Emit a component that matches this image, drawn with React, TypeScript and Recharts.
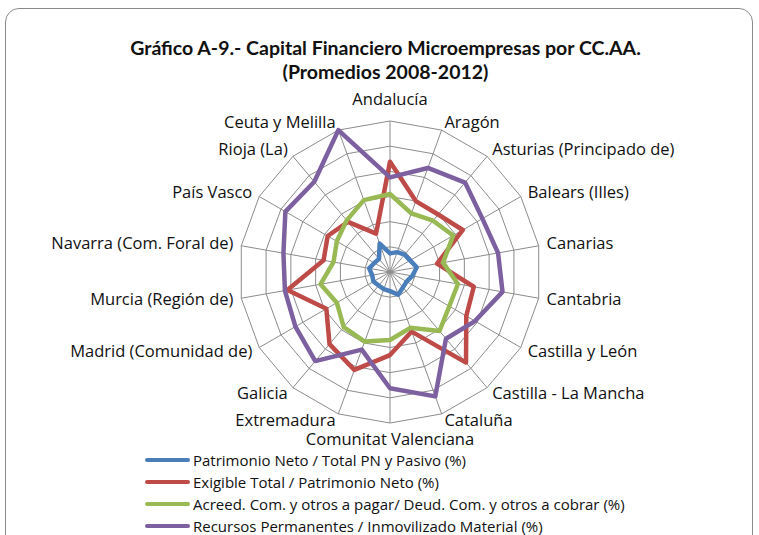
import {
  RadarChart,
  Radar,
  PolarGrid,
  PolarAngleAxis,
  PolarRadiusAxis,
  Legend,
} from "recharts";

const regions = [
  "Andalucía",
  "Aragón",
  "Asturias (Principado de)",
  "Balears (Illes)",
  "Canarias",
  "Cantabria",
  "Castilla y León",
  "Castilla - La Mancha",
  "Cataluña",
  "Comunitat Valenciana",
  "Extremadura",
  "Galicia",
  "Madrid (Comunidad de)",
  "Murcia (Región de)",
  "Navarra (Com. Foral de)",
  "País Vasco",
  "Rioja (La)",
  "Ceuta y Melilla",
];

const patrimonioNeto = [37, 42, 45, 46, 54, 45, 38, 40, 48, 38, 36, 35, 38, 36, 42, 36, 34, 60];
const exigibleTotal = [219, 150, 149, 167, 95, 169, 175, 235, 126, 165, 207, 187, 146, 207, 134, 143, 130, 81];
const acreedores = [155, 124, 133, 145, 107, 137, 136, 153, 118, 135, 147, 143, 122, 140, 114, 122, 134, 152];
const recursosPermanentes = [188, 220, 232, 212, 218, 227, 195, 173, 263, 231, 164, 231, 217, 212, 215, 240, 234, 300];

const seriesNames = [
  "Patrimonio Neto / Total PN y Pasivo (%)",
  "Exigible Total / Patrimonio Neto (%)",
  "Acreed. Com. y otros a pagar/ Deud. Com. y otros a cobrar (%)",
  "Recursos Permanentes / Inmovilizado Material (%)",
];
const seriesColors = ["#4a7ebb", "#be4b48", "#98b954", "#7d60a0"];

const data = regions.map((region, i) => ({
  region,
  pn: patrimonioNeto[i],
  exigible: exigibleTotal[i],
  acreed: acreedores[i],
  recursos: recursosPermanentes[i],
}));
const keys = ["pn", "exigible", "acreed", "recursos"];

const CX = 390;
const CY = 272;

function RegionTick({ x, y, payload }: any) {
  const dx = x - CX;
  let anchor = "middle";
  if (dx > 1) anchor = "start";
  else if (dx < -1) anchor = "end";
  let dy = 5;
  if (anchor === "middle") dy = y < CY ? -8 : 14;
  return (
    <text
      x={x}
      y={y}
      dy={dy}
      textAnchor={anchor}
      fontSize={16.5}
      fontFamily="Open Sans"
      fill="#111"
    >
      {payload.value}
    </text>
  );
}

// legend kept in series order (recharts sorts the payload by name)
function SeriesLegend() {
  return (
    <div style={{ fontFamily: "Open Sans", fontSize: 15, color: "#111" }}>
      {seriesNames.map((name, i) => (
        <div key={name} style={{ display: "flex", alignItems: "center", height: 22 }}>
          <span
            style={{
              width: 45,
              height: 4,
              borderRadius: 2,
              background: seriesColors[i],
              display: "inline-block",
            }}
          />
          <span style={{ marginLeft: 3, whiteSpace: "nowrap" }}>{name}</span>
        </div>
      ))}
    </div>
  );
}

export default function App() {
  return (
    <div
      style={{
        position: "fixed",
        left: 0,
        top: 0,
        width: 759,
        height: 535,
        background: "#fff",
        overflow: "hidden",
      }}
    >
      <div
        style={{
          position: "absolute",
          left: 5,
          top: 8,
          width: 746,
          height: 560,
          border: "1px solid #8a8a8a",
          borderRadius: 14,
        }}
      />
      <div
        style={{
          position: "absolute",
          left: 0,
          top: 36,
          width: 771,
          textAlign: "center",
          fontFamily: "Lato",
          fontWeight: 700,
          fontSize: 19.5,
          lineHeight: "24px",
          color: "#111",
        }}
      >
        Gráfico A-9.- Capital Financiero Microempresas por CC.AA.
        <br />
        (Promedios 2008-2012)
      </div>
      <div style={{ position: "absolute", left: 0, top: 0 }}>
        <RadarChart
          width={759}
          height={535}
          data={data}
          cx={CX}
          cy={CY}
          outerRadius={151}
          startAngle={90}
          endAngle={-270}
          margin={{ top: 0, right: 0, bottom: 0, left: 0 }}
        >
          <PolarGrid stroke="#8c8c8c" strokeWidth={1} />
          <PolarAngleAxis dataKey="region" tick={<RegionTick />} tickLine={false} />
          <PolarRadiusAxis domain={[0, 300]} tickCount={7} tick={false} axisLine={false} />
          {keys.map((k, i) => (
            <Radar
              key={k}
              name={seriesNames[i]}
              dataKey={k}
              stroke={seriesColors[i]}
              strokeWidth={4.5}
              strokeLinejoin="round"
              fill="none"
              fillOpacity={0}
              dot={false}
              isAnimationActive={false}
            />
          ))}
          <Legend
            content={<SeriesLegend />}
            wrapperStyle={{ left: 145, top: 449, bottom: "auto", width: "auto" }}
          />
        </RadarChart>
      </div>
    </div>
  );
}
